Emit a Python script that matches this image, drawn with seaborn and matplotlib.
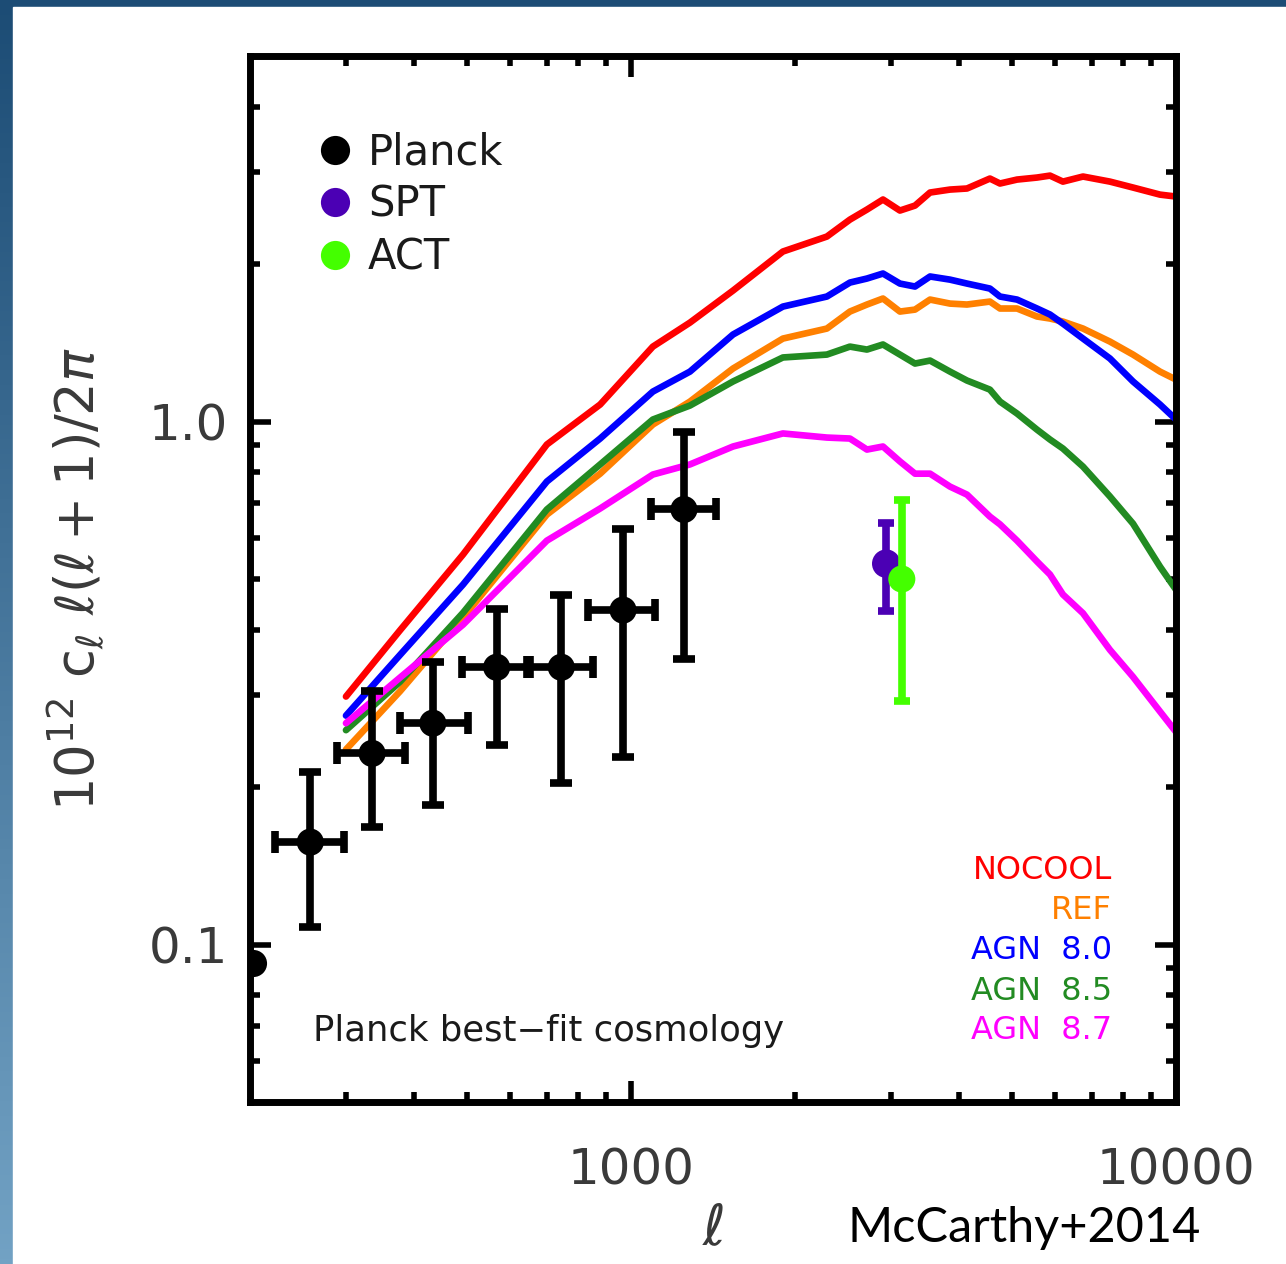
import numpy as np
import pandas as pd
import matplotlib
matplotlib.use("Agg")
import matplotlib.pyplot as plt
import seaborn as sns
from matplotlib.lines import Line2D
from matplotlib.patches import Rectangle
from matplotlib.ticker import FixedLocator, FixedFormatter, NullFormatter

# ---------------- data ----------------
ell_model = [300, 377, 492, 701, 878, 1097, 1283, 1539, 1900, 2288, 2522, 2710,
             2900, 3115, 3320, 3538, 3849, 4135, 4556, 4754, 5109, 5559, 5872,
             6202, 6751, 7565, 8339, 9346, 10000]
nocool = [0.298, 0.399, 0.557, 0.904, 1.078, 1.391, 1.546, 1.780, 2.114, 2.258,
          2.433, 2.543, 2.658, 2.532, 2.588, 2.741, 2.777, 2.790, 2.915, 2.852,
          2.902, 2.928, 2.953, 2.876, 2.941, 2.876, 2.802, 2.716, 2.693]
ref = [0.236, 0.305, 0.422, 0.664, 0.795, 0.987, 1.092, 1.263, 1.441, 1.506,
       1.623, 1.674, 1.719, 1.623, 1.637, 1.711, 1.681, 1.674, 1.696, 1.645,
       1.645, 1.588, 1.574, 1.553, 1.506, 1.422, 1.343, 1.246, 1.203]
agn80 = [0.274, 0.358, 0.488, 0.768, 0.928, 1.141, 1.246, 1.467, 1.659, 1.734,
         1.844, 1.877, 1.919, 1.836, 1.812, 1.894, 1.868, 1.836, 1.796, 1.734,
         1.711, 1.645, 1.602, 1.539, 1.441, 1.320, 1.193, 1.078, 1.009]
agn85 = [0.257, 0.318, 0.431, 0.679, 0.828, 1.009, 1.073, 1.193, 1.326, 1.343,
         1.391, 1.373, 1.404, 1.343, 1.291, 1.308, 1.246, 1.198, 1.151, 1.092,
         1.036, 0.965, 0.924, 0.888, 0.820, 0.719, 0.638, 0.528, 0.477]
agn87 = [0.265, 0.324, 0.409, 0.592, 0.682, 0.792, 0.828, 0.896, 0.949, 0.932,
         0.928, 0.884, 0.896, 0.839, 0.795, 0.795, 0.751, 0.725, 0.658, 0.636,
         0.592, 0.540, 0.510, 0.467, 0.430, 0.366, 0.325, 0.279, 0.255]

model_names = ["NOCOOL", "REF", "AGN  8.0", "AGN  8.5", "AGN  8.7"]
model_colors = ["#ff0000", "#ff8000", "#0000ff", "#228b22", "#ff00ff"]

planck_ell = [258, 335, 433, 567, 745, 967, 1251]
planck_ell_lo = [222, 289, 377, 490, 644, 834, 1088]
planck_ell_hi = [297, 385, 502, 653, 851, 1107, 1432]
planck_val = [0.157, 0.232, 0.265, 0.339, 0.339, 0.436, 0.679]
planck_val_lo = [0.108, 0.168, 0.185, 0.241, 0.204, 0.228, 0.351]
planck_val_hi = [0.214, 0.305, 0.347, 0.439, 0.467, 0.624, 0.957]
planck_edge_ell = [203]
planck_edge_val = [0.092]

spt_ell = [2940]
spt_val = [0.535]
spt_lo = [0.434]
spt_hi = [0.641]

act_ell = [3140]
act_val = [0.500]
act_lo = [0.292]
act_hi = [0.709]

x_major = [1000, 10000]
x_major_labels = ["1000", "10000"]
y_major = [0.1, 1.0]
y_major_labels = ["0.1", "1.0"]

# ---------------- figure ----------------
sns.set_style("white")
plt.rcParams["font.family"] = ["DejaVu Sans"]
plt.rcParams["mathtext.fontset"] = "dejavusans"

W, H = 1286, 1264
fig = plt.figure(figsize=(W / 100, H / 100), dpi=100)

# background: blue gradient frame with white panel
bg = fig.add_axes([0, 0, 1, 1], zorder=-10)
grad = np.linspace(0, 1, 256).reshape(-1, 1)
top_c = np.array([0x1c, 0x4c, 0x75]) / 255
bot_c = np.array([0x72, 0xa2, 0xc4]) / 255
img = top_c[None, None, :] * (1 - grad[:, :, None]) + bot_c[None, None, :] * grad[:, :, None]
bg.imshow(img, aspect="auto", extent=[0, 1, 0, 1], origin="upper")
bg.add_patch(Rectangle((13 / W, 0), 1, 1 - 7 / H, color="white", zorder=2))
bg.set_xlim(0, 1)
bg.set_ylim(0, 1)
bg.axis("off")

ax = fig.add_axes([250 / W, 1 - 1102 / H, (1176 - 250) / W, (1102 - 56) / H])
ax.set_facecolor("white")

# model curves
df_models = pd.DataFrame({
    "ell": ell_model * 5,
    "value": nocool + ref + agn80 + agn85 + agn87,
    "model": sum([[m] * len(ell_model) for m in model_names], []),
})
sns.lineplot(data=df_models, x="ell", y="value", hue="model",
             hue_order=model_names, palette=dict(zip(model_names, model_colors)),
             estimator=None, sort=False, linewidth=4.8, legend=False, ax=ax,
             zorder=2)

ax.set_xscale("log")
ax.set_yscale("log")
ax.set_xlim(200, 10000)
ax.set_ylim(0.05, 5.0)

# Planck points
pv = np.array(planck_val)
pe = np.array(planck_ell)
ax.errorbar(pe, pv,
            yerr=[pv - np.array(planck_val_lo), np.array(planck_val_hi) - pv],
            xerr=[pe - np.array(planck_ell_lo), np.array(planck_ell_hi) - pe],
            fmt="none", ecolor="black", elinewidth=5.5, capsize=8, capthick=5.5,
            zorder=4)
sns.scatterplot(x=planck_ell, y=planck_val, color="black", s=380,
                edgecolor="none", ax=ax, zorder=5)
sns.scatterplot(x=planck_edge_ell, y=planck_edge_val, color="black", s=380,
                edgecolor="none", ax=ax, zorder=5)

# SPT
sv = np.array(spt_val)
ax.errorbar(spt_ell, sv, yerr=[sv - np.array(spt_lo), np.array(spt_hi) - sv],
            fmt="none", ecolor="#4b00b4", elinewidth=5.5, capsize=5.5,
            capthick=5.5, zorder=4)
sns.scatterplot(x=spt_ell, y=spt_val, color="#4b00b4", s=420, edgecolor="none",
                ax=ax, zorder=5)

# ACT
av = np.array(act_val)
ax.errorbar(act_ell, av, yerr=[av - np.array(act_lo), np.array(act_hi) - av],
            fmt="none", ecolor="#44ff00", elinewidth=5.5, capsize=5.5,
            capthick=5.5, zorder=6)
sns.scatterplot(x=act_ell, y=act_val, color="#44ff00", s=380, edgecolor="none",
                ax=ax, zorder=6)

# ticks
ax.xaxis.set_major_locator(FixedLocator(x_major))
ax.xaxis.set_major_formatter(FixedFormatter(x_major_labels))
x_minor = [300, 400, 500, 600, 700, 800, 900, 2000, 3000, 4000, 5000, 6000, 7000, 8000, 9000]
ax.xaxis.set_minor_locator(FixedLocator(x_minor))
ax.xaxis.set_minor_formatter(NullFormatter())
ax.yaxis.set_major_locator(FixedLocator(y_major))
ax.yaxis.set_major_formatter(FixedFormatter(y_major_labels))
y_minor = [0.06, 0.07, 0.08, 0.09, 0.2, 0.3, 0.4, 0.5, 0.6, 0.7, 0.8, 0.9, 2, 3, 4]
ax.yaxis.set_minor_locator(FixedLocator(y_minor))
ax.yaxis.set_minor_formatter(NullFormatter())

ax.tick_params(which="both", direction="in", top=True, right=True, bottom=True,
               left=True, color="black", width=4)
ax.tick_params(which="major", length=15)
ax.tick_params(which="minor", length=7)
ax.tick_params(axis="x", which="major", labelsize=36, pad=32, labelcolor="#3a3a3a")
ax.tick_params(axis="y", which="major", labelsize=36, pad=16, labelcolor="#3a3a3a")
for s in ax.spines.values():
    s.set_linewidth(5)
    s.set_color("black")

ax.set_xlabel(r"$\ell$", fontsize=40, color="#3a3a3a")
ax.xaxis.set_label_coords(0.5, -0.097)
ax.set_ylabel(r"$10^{12}\ \mathrm{c}_\ell\ \ell(\ell+1)/2\pi$", fontsize=38,
              color="#3a3a3a")
ax.yaxis.set_label_coords(-0.155, 0.5)

# legend for observations
handles = [Line2D([], [], marker="o", linestyle="none", markersize=21,
                  markerfacecolor=c, markeredgecolor="none")
           for c in ["black", "#4b00b4", "#44ff00"]]
leg = ax.legend(handles, ["Planck", "SPT", "ACT"], loc="upper left",
                bbox_to_anchor=(0.069, 0.928), frameon=False, fontsize=30,
                handlelength=1.0, handletextpad=0.3, labelspacing=0.25,
                borderpad=0, borderaxespad=0)
for t in leg.get_texts():
    t.set_color("#1a1a1a")

# model labels
label_y = [0.221, 0.183, 0.145, 0.106, 0.068]
for name, col, yy in zip(model_names, model_colors, label_y):
    ax.text(0.931, yy, name, color=col, fontsize=23, ha="right", va="center",
            transform=ax.transAxes)

ax.text(0.068, 0.068, "Planck best\u2212fit cosmology", color="#1a1a1a",
        fontsize=25.5, ha="left", va="center", transform=ax.transAxes)

fig.text(848 / W, 1 - 1228 / H, "McCarthy+2014", fontsize=35, color="black",
         ha="left", va="center", family=["Lato", "DejaVu Sans"])

fig.savefig("out.png", dpi=100)
